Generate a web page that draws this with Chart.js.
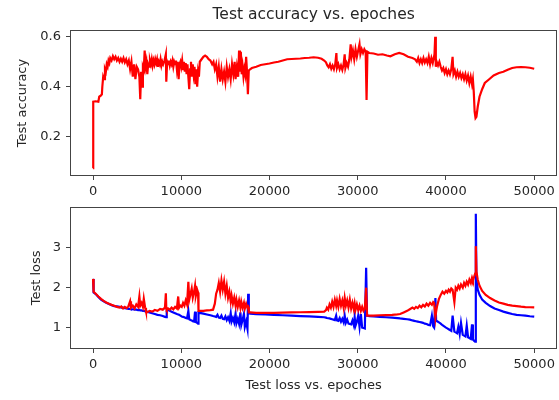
<!DOCTYPE html>
<html><head><meta charset="utf-8">
<script src="https://cdn.jsdelivr.net/npm/chart.js@4.4.1/dist/chart.umd.min.js"></script>
<style>
html,body{margin:0;padding:0;background:#fff;}
#wrap{position:relative;width:559px;height:400px;overflow:hidden;background:#fff;}
.box{position:absolute;left:0;width:559px;}
canvas{display:block;}
</style></head><body>
<div id="wrap">
<div class="box" style="top:0;height:195px"><canvas id="c1" width="559" height="195"></canvas></div>
<div class="box" style="top:195px;height:205px"><canvas id="c2" width="559" height="205"></canvas></div>
</div>
<script>
const xTicks = [0, 10000, 20000, 30000, 40000, 50000];
const accTicks = [0.2, 0.4, 0.6];
const lossTicks = [1, 2, 3];

const accEpochs = [
0,20,300,600,700,900,1000,1050,1150,1250,
1350,1450,1550,1650,1750,1850,1950,2100,2250,2400,
2550,2700,2850,3000,3150,3300,3450,3600,3750,3900,
4050,4200,4350,4500,4650,4800,4950,5100,5250,5350,
5450,5550,5650,5750,5850,5950,6050,6150,6250,6350,
6450,6550,6650,6750,6850,6950,7050,7150,7250,7350,
7450,7550,7650,7750,7850,7950,8100,8250,8300,8400,
8500,8600,8700,8800,8900,9000,9100,9200,9300,9400,
9500,9600,9700,9800,9900,10000,10100,10200,10300,10400,
10500,10600,10700,10800,10900,11000,11100,11200,11300,11400,
11500,11600,11700,11800,11900,12000,12100,12300,12500,12700,
12900,13100,13300,13500,13650,13800,13950,14100,14250,14400,
14550,14700,14850,15000,15150,15300,15450,15600,15750,15900,
16050,16150,16300,16450,16550,16650,16750,16850,16950,17050,
17150,17250,17350,17450,17550,17650,17800,18000,18500,19000,
19500,20000,20500,21000,21500,22000,22500,23000,23500,24000,
24500,25000,25500,25900,26200,26400,26550,26700,26850,27000,
27150,27300,27450,27580,27650,27800,27950,28100,28250,28400,
28520,28600,28750,28900,29050,29200,29300,29450,29600,29750,
29900,30050,30200,30300,30450,30600,30750,30900,31000,31100,
31300,31800,32300,32800,33300,33700,34200,34700,35200,35700,
36200,36500,36700,36850,37000,37150,37300,37450,37600,37750,
37900,38050,38200,38350,38500,38700,38780,38850,38950,39100,
39250,39400,39550,39700,39850,40000,40150,40300,40450,40600,
40750,40850,41000,41150,41300,41450,41600,41750,41900,42050,
42200,42350,42500,42650,42800,42950,43050,43150,43250,43350,
43450,43600,43800,44100,44400,44900,45400,46000,46500,47000,
47500,48000,48500,49000,49500,50000
];
const accValues = [
0.074,0.34,0.342,0.34,0.36,0.365,0.37,0.40,0.44,0.43,
0.47,0.46,0.49,0.48,0.505,0.495,0.515,0.505,0.522,0.51,
0.52,0.505,0.515,0.50,0.512,0.50,0.515,0.498,0.51,0.49,
0.505,0.47,0.50,0.44,0.49,0.43,0.48,0.47,0.44,0.35,
0.46,0.40,0.48,0.47,0.545,0.48,0.50,0.45,0.49,0.48,
0.505,0.49,0.51,0.485,0.505,0.49,0.51,0.495,0.51,0.48,
0.50,0.49,0.51,0.485,0.50,0.49,0.505,0.53,0.42,0.50,
0.49,0.505,0.485,0.50,0.49,0.505,0.48,0.50,0.49,0.505,
0.47,0.50,0.43,0.49,0.50,0.48,0.505,0.47,0.50,0.46,
0.495,0.45,0.49,0.44,0.39,0.47,0.50,0.44,0.49,0.45,
0.48,0.41,0.47,0.40,0.46,0.44,0.50,0.51,0.52,0.525,
0.52,0.51,0.505,0.49,0.50,0.47,0.49,0.44,0.48,0.42,
0.47,0.43,0.46,0.42,0.48,0.44,0.47,0.43,0.49,0.45,
0.50,0.43,0.48,0.44,0.545,0.46,0.54,0.45,0.48,0.44,
0.47,0.45,0.52,0.46,0.37,0.465,0.47,0.475,0.48,0.487,
0.49,0.493,0.497,0.50,0.505,0.51,0.511,0.512,0.513,0.515,
0.516,0.518,0.516,0.512,0.505,0.498,0.485,0.478,0.49,0.472,
0.485,0.47,0.49,0.535,0.475,0.49,0.47,0.485,0.468,0.49,
0.53,0.475,0.495,0.48,0.51,0.57,0.52,0.545,0.51,0.55,
0.52,0.545,0.57,0.53,0.55,0.535,0.55,0.54,0.347,0.54,
0.535,0.533,0.528,0.53,0.525,0.522,0.53,0.535,0.53,0.52,
0.515,0.51,0.50,0.515,0.495,0.51,0.495,0.515,0.497,0.51,
0.495,0.52,0.49,0.515,0.495,0.53,0.60,0.48,0.50,0.485,
0.50,0.48,0.465,0.475,0.455,0.47,0.45,0.465,0.45,0.47,
0.52,0.45,0.465,0.44,0.46,0.44,0.455,0.435,0.45,0.43,
0.45,0.425,0.445,0.415,0.44,0.41,0.43,0.38,0.30,0.275,
0.28,0.32,0.36,0.39,0.415,0.43,0.445,0.455,0.46,0.468,
0.475,0.478,0.479,0.478,0.476,0.472
];

const lossEpochs = [
0,60,300,600,900,1200,1500,1800,2100,2400,
2700,3000,3200,3400,3600,3800,4000,4200,4300,4500,
4700,4900,5100,5250,5350,5500,5650,5750,5900,6000,
6100,6400,6700,7000,7300,7600,7900,8150,8250,8300,
8350,8500,8700,8900,9100,9300,9500,9650,9750,9900,
10050,10200,10350,10500,10650,10800,10900,11050,11180,11300,
11450,11560,11650,11800,11900,11950,12100,12500,12900,13300,
13600,13800,13950,14100,14250,14400,14550,14700,14850,15000,
15150,15300,15450,15600,15700,15850,16000,16150,16250,16400,
16550,16700,16800,16950,17100,17200,17350,17500,17580,17650,
17800,18500,19500,20500,21500,22500,23500,24500,25500,26200,
26400,26500,26650,26800,26950,27100,27250,27400,27550,27650,
27800,27950,28100,28250,28400,28520,28650,28800,28950,29100,
29250,29400,29550,29650,29750,29900,30050,30200,30350,30500,
30650,30800,30950,31050,31300,31800,32500,33200,33900,34500,
34800,35200,35600,35900,36200,36400,36600,36800,37000,37200,
37400,37600,37800,38000,38200,38400,38550,38650,38800,38880,
39000,39200,39400,39600,39800,40000,40150,40300,40450,40600,
40750,40950,41100,41250,41400,41550,41700,41900,42050,42200,
42350,42500,42650,42800,42950,43050,43200,43300,43380,43450,
43600,43800,44100,44500,45000,45500,46000,46500,47000,47500,
48000,48500,49000,49500,50000
];
const lossRed = [
2.22,1.90,1.85,1.78,1.72,1.67,1.63,1.60,1.57,1.55,
1.52,1.50,1.53,1.48,1.52,1.49,1.53,1.66,1.50,1.55,
1.48,1.58,1.52,1.78,1.55,1.62,1.52,1.72,1.50,1.40,
1.38,1.42,1.40,1.44,1.42,1.47,1.45,1.50,1.86,1.48,
1.45,1.48,1.45,1.50,1.46,1.52,1.48,1.78,1.50,1.55,
1.52,1.62,1.55,1.68,1.58,2.15,1.70,1.85,1.98,1.75,
1.90,2.05,1.80,1.95,1.88,1.42,1.42,1.42,1.43,1.44,
1.45,1.60,1.85,1.95,2.12,1.90,2.18,1.95,2.15,1.85,
2.05,1.75,1.90,1.65,1.80,1.60,1.75,1.55,1.70,1.52,
1.68,1.50,1.65,1.50,1.62,1.48,1.60,1.50,1.52,1.38,
1.38,1.37,1.37,1.37,1.375,1.38,1.385,1.39,1.395,1.40,
1.44,1.50,1.45,1.58,1.50,1.65,1.52,1.70,1.55,1.68,
1.52,1.72,1.55,1.68,1.50,1.74,1.55,1.68,1.50,1.70,
1.48,1.62,1.46,1.60,1.45,1.58,1.44,1.55,1.42,1.52,
1.42,1.48,2.00,1.30,1.30,1.30,1.31,1.315,1.32,1.33,
1.34,1.38,1.42,1.46,1.50,1.47,1.52,1.49,1.55,1.51,
1.57,1.53,1.60,1.55,1.62,1.57,1.64,1.62,1.25,1.40,
1.55,1.72,1.82,1.90,1.85,1.92,1.88,1.95,1.90,1.98,
1.95,1.64,2.00,1.95,2.05,1.98,2.08,2.00,2.12,2.05,
2.15,2.08,2.20,2.12,2.25,2.18,2.28,2.35,3.04,2.40,
2.20,2.05,1.92,1.82,1.74,1.68,1.63,1.60,1.57,1.55,
1.54,1.525,1.515,1.51,1.505
];
const lossBlue = [
2.22,1.88,1.84,1.77,1.70,1.66,1.62,1.59,1.56,1.54,
1.53,1.52,1.50,1.50,1.49,1.48,1.47,1.47,1.46,1.46,
1.45,1.45,1.44,1.44,1.43,1.43,1.42,1.42,1.41,1.40,
1.40,1.38,1.36,1.34,1.32,1.31,1.29,1.27,1.26,1.26,
1.45,1.44,1.42,1.40,1.38,1.36,1.34,1.33,1.32,1.30,
1.28,1.27,1.26,1.24,1.23,1.42,1.21,1.19,1.18,1.16,
1.15,1.40,1.14,1.12,1.10,1.38,1.37,1.35,1.33,1.31,
1.29,1.28,1.27,1.32,1.25,1.24,1.30,1.22,1.21,1.28,
1.19,1.26,1.17,1.36,1.15,1.24,1.13,1.35,1.11,1.22,
1.09,1.38,1.07,1.20,1.35,1.02,1.15,0.97,1.85,1.36,
1.35,1.34,1.33,1.32,1.31,1.30,1.29,1.28,1.27,1.26,
1.25,1.24,1.235,1.23,1.22,1.21,1.20,1.19,1.30,1.18,
1.17,1.24,1.15,1.22,1.13,1.30,1.12,1.20,1.10,1.09,
1.08,1.18,1.06,1.26,1.05,1.15,1.30,1.02,1.34,1.00,
0.99,0.98,2.50,1.30,1.29,1.28,1.27,1.26,1.25,1.24,
1.23,1.22,1.21,1.20,1.18,1.17,1.16,1.15,1.14,1.13,
1.12,1.10,1.09,1.07,1.06,1.30,1.03,1.00,1.74,1.18,
1.16,1.13,1.10,1.06,1.03,1.00,0.98,0.96,0.94,0.92,
1.30,0.90,0.88,0.86,1.02,0.84,1.12,0.82,0.80,0.78,
1.05,0.76,0.74,0.72,1.08,0.70,0.67,0.65,3.85,2.20,
1.95,1.82,1.70,1.62,1.54,1.48,1.44,1.40,1.37,1.34,
1.32,1.31,1.30,1.285,1.275
];

const FONT = "'DejaVu Sans', sans-serif";
const TXT = '#262626';
const AX = '#444444';

const framePlugin = {
  id: 'frame',
  afterDraw(chart) {
    const a = chart.chartArea, ctx = chart.ctx;
    ctx.save();
    ctx.strokeStyle = AX;
    ctx.lineWidth = 1;
    const l = Math.round(a.left) - 0.5, t = Math.round(a.top) - 0.5;
    const r = Math.round(a.right) + 0.5, b = Math.round(a.bottom) + 0.5;
    ctx.strokeRect(l, t, r - l, b - t);
    ctx.restore();
  }
};

function pts(xs, ys) { return xs.map((x, i) => ({x: x, y: ys[i]})); }

function xScale(h, titleOpts) {
  return {
    type: 'linear', min: -2500, max: 52500,
    afterBuildTicks: s => { s.ticks = xTicks.map(v => ({value: v})); },
    afterFit: s => { s.height = h; },
    ticks: {color: TXT, font: {family: FONT, size: 13}, padding: 4, maxRotation: 0, autoSkip: false,
            callback: v => String(v)},
    grid: {display: true, drawOnChartArea: false, drawTicks: true, tickLength: 5, color: AX, lineWidth: 1},
    border: {display: false},
    title: titleOpts
  };
}
function yScale(min, max, ticksArr, fmt, titleText, titlePad) {
  return {
    type: 'linear', min: min, max: max,
    afterBuildTicks: s => { s.ticks = ticksArr.map(v => ({value: v})); },
    afterFit: s => { s.width = 71; },
    ticks: {color: TXT, font: {family: FONT, size: 13}, padding: 5, callback: fmt},
    grid: {display: true, drawOnChartArea: false, drawTicks: true, tickLength: 5, color: AX, lineWidth: 1},
    border: {display: false},
    title: {display: true, text: titleText, color: TXT, font: {family: FONT, size: 13},
            padding: {top: titlePad, bottom: 0}}
  };
}

new Chart(document.getElementById('c1'), {
  type: 'line',
  data: {datasets: [{
    data: pts(accEpochs, accValues),
    borderColor: '#ff0000', borderWidth: 2.2, pointRadius: 0, tension: 0, fill: false
  }]},
  options: {
    responsive: false, animation: false, events: [],
    layout: {padding: {left: 0, right: 2, top: 0, bottom: 0}},
    plugins: {
      legend: {display: false}, tooltip: {enabled: false},
      title: {display: true, fullSize: false, text: 'Test accuracy vs. epoches', color: TXT,
              font: {family: FONT, size: 15.5, weight: 'normal'}, padding: {top: 5.7, bottom: 6.7}}
    },
    scales: {
      x: xScale(20, {display: false}),
      y: yScale(0.047, 0.623, accTicks, v => Number(v).toFixed(1), 'Test accuracy', 14.5)
    }
  },
  plugins: [framePlugin]
});

new Chart(document.getElementById('c2'), {
  type: 'line',
  data: {datasets: [
    {data: pts(lossEpochs, lossRed), borderColor: '#ff0000', borderWidth: 2.2, pointRadius: 0, tension: 0, fill: false},
    {data: pts(lossEpochs, lossBlue), borderColor: '#0000ff', borderWidth: 2.2, pointRadius: 0, tension: 0, fill: false}
  ]},
  options: {
    responsive: false, animation: false, events: [],
    layout: {padding: {left: 0, right: 2, top: 9, bottom: 0}},
    plugins: {legend: {display: false}, tooltip: {enabled: false}},
    scales: {
      x: xScale(52, {display: true, text: 'Test loss vs. epoches', color: TXT,
                     font: {family: FONT, size: 13}, padding: {top: 0, bottom: 6.7}}),
      y: yScale(0.49, 4.0, lossTicks, v => String(v), 'Test loss', 29)
    }
  },
  plugins: [framePlugin]
});
</script>
</body></html>
